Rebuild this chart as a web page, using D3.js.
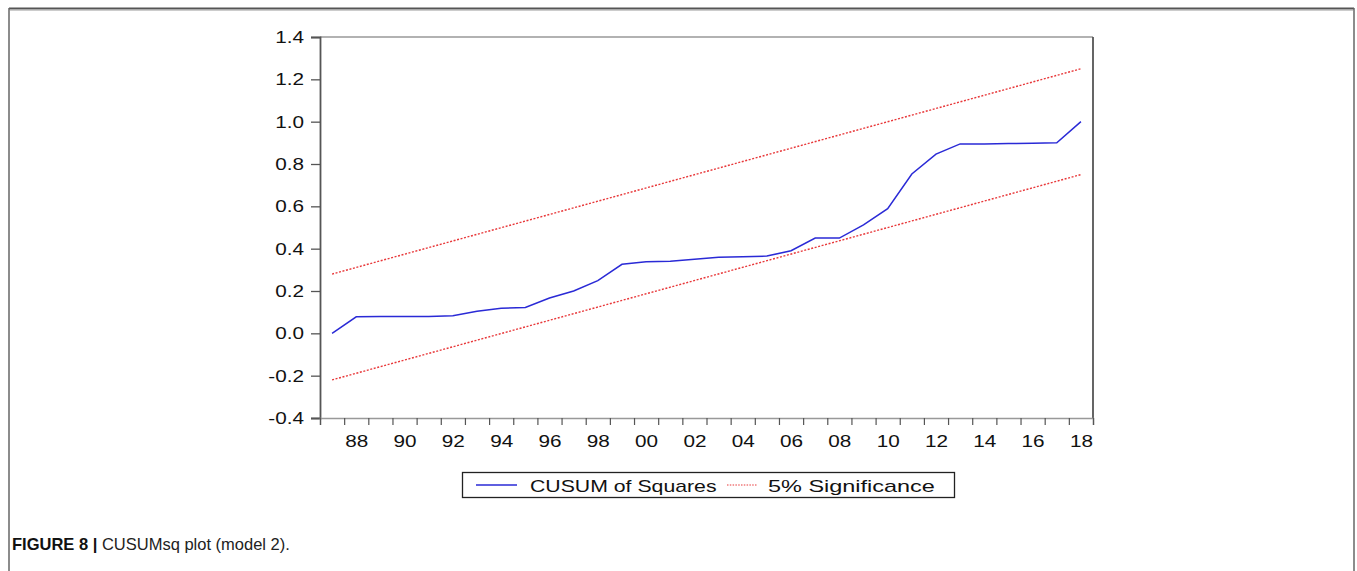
<!DOCTYPE html>
<html>
<head>
<meta charset="utf-8">
<script src="https://cdn.jsdelivr.net/npm/d3@7"></script>
<style>
  body { margin: 0; background: #fff; }
  svg { display: block; }
  text { font-family: "Liberation Sans", Arial, sans-serif; fill: #111; }
</style>
</head>
<body>
<svg width="1357" height="571"></svg>
<script>
// data
var years = [1987, 1988, 1989, 1990, 1991, 1992, 1993, 1994, 1995, 1996, 1997, 1998, 1999, 2000, 2001, 2002,
  2003, 2004, 2005, 2006, 2007, 2008, 2009, 2010, 2011, 2012, 2013, 2014, 2015, 2016, 2017, 2018];
var cusumSq = [0.0, 0.078, 0.079, 0.08, 0.08, 0.083, 0.104, 0.118, 0.122, 0.167, 0.2, 0.249, 0.326, 0.338, 0.34, 0.35,
  0.36, 0.362, 0.365, 0.39, 0.45, 0.45, 0.512, 0.589, 0.753, 0.847, 0.895, 0.895, 0.897, 0.898, 0.9, 1.0];
// the 5% bounds are straight lines, only the ends
var upperYears = [1987, 2018];
var upperBound = [0.28, 1.25];
var lowerYears = [1987, 2018];
var lowerBound = [-0.22, 0.75];
var yTicks = [-0.4, -0.2, 0.0, 0.2, 0.4, 0.6, 0.8, 1.0, 1.2, 1.4];
var xLabelYears = [1988, 1990, 1992, 1994, 1996, 1998, 2000, 2002, 2004, 2006, 2008, 2010, 2012, 2014, 2016, 2018];
var legendNames = ["CUSUM of Squares", "5% Significance"];

var svg = d3.select("svg");
// (don't call it "top", window.top is taken)
var plotLeft = 320, plotRight = 1093, plotTop = 37, plotBottom = 418;
var stretch = 1.22; // text in the picture is wider than normal

var x = d3.scaleLinear().domain([years[0] - 0.5, years[years.length - 1] + 0.5]).range([plotLeft, plotRight]);
var y = d3.scaleLinear().domain([-0.4, 1.4]).range([plotBottom, plotTop]);

// outer frame of the figure
svg.append("line").attr("x1", 9).attr("x2", 1354).attr("y1", 8.5).attr("y2", 8.5)
  .attr("stroke", "#555").attr("stroke-width", 2);
svg.append("line").attr("x1", 10).attr("x2", 1353).attr("y1", 10.5).attr("y2", 10.5)
  .attr("stroke", "#ccc").attr("stroke-width", 1);
svg.append("line").attr("x1", 9).attr("x2", 9).attr("y1", 8).attr("y2", 571)
  .attr("stroke", "#666").attr("stroke-width", 1.5);
svg.append("line").attr("x1", 1354).attr("x2", 1354).attr("y1", 8).attr("y2", 571)
  .attr("stroke", "#666").attr("stroke-width", 1.5);

// plot box
svg.append("line").attr("x1", plotLeft).attr("x2", plotRight).attr("y1", plotTop).attr("y2", plotTop)
  .attr("stroke", "#999").attr("stroke-width", 1.5);
svg.append("line").attr("x1", plotRight).attr("x2", plotRight).attr("y1", plotTop).attr("y2", plotBottom)
  .attr("stroke", "#555").attr("stroke-width", 1.8);

// y axis (plain hyphen for negatives, like the picture)
var yAxis = svg.append("g").attr("transform", "translate(" + plotLeft + ",0)")
  .call(d3.axisLeft(y).tickValues(yTicks).tickSize(9).tickPadding(8)
    .tickFormat(function(d) { return d.toFixed(1); }));
yAxis.select(".domain").attr("stroke", "#555").attr("stroke-width", 1.8);
yAxis.selectAll(".tick line").attr("stroke", "#555").attr("stroke-width", 1.3);
yAxis.selectAll(".tick text")
  .attr("x", null)
  .attr("transform", "translate(-16,0) scale(" + stretch + ",1)")
  .style("font-size", "17px").style("font-family", "Liberation Sans, Arial, sans-serif")
  .attr("fill", "#111");

// x axis: tick marks on year boundaries
var bounds = years.map(function(d) { return d - 0.5; }).concat([years[years.length - 1] + 0.5]);
var xTickAxis = svg.append("g").attr("transform", "translate(0," + plotBottom + ")")
  .call(d3.axisBottom(x).tickValues(bounds).tickSize(7).tickFormat(""));
xTickAxis.select(".domain").attr("stroke", "#999").attr("stroke-width", 1.5);
xTickAxis.selectAll(".tick line").attr("stroke", "#555").attr("stroke-width", 1.2);

// x labels at the middle of each period
var xLabAxis = svg.append("g").attr("transform", "translate(0," + plotBottom + ")")
  .call(d3.axisBottom(x).tickValues(xLabelYears).tickSize(0).tickPadding(17)
    .tickFormat(function(d) { return d3.format("02d")(d % 100); }));
xLabAxis.select(".domain").remove();
xLabAxis.selectAll(".tick text")
  .attr("transform", "scale(" + stretch + ",1)")
  .style("font-size", "17px").style("font-family", "Liberation Sans, Arial, sans-serif")
  .attr("fill", "#111");

// lines
var line = d3.line().x(function(d) { return x(d[0]); }).y(function(d) { return y(d[1]); });

svg.append("path")
  .datum(d3.zip(upperYears, upperBound))
  .attr("d", line).attr("fill", "none")
  .attr("stroke", "#e8383a").attr("stroke-width", 1.4).attr("stroke-dasharray", "2,1.6");
svg.append("path")
  .datum(d3.zip(lowerYears, lowerBound))
  .attr("d", line).attr("fill", "none")
  .attr("stroke", "#e8383a").attr("stroke-width", 1.4).attr("stroke-dasharray", "2,1.6");

svg.append("path")
  .datum(d3.zip(years, cusumSq))
  .attr("d", line).attr("fill", "none")
  .attr("stroke", "#2a2ad6").attr("stroke-width", 1.5);

// legend
var lg = svg.append("g");
lg.append("rect").attr("x", 462.5).attr("y", 472.5).attr("width", 492).attr("height", 25)
  .attr("fill", "#fff").attr("stroke", "#222").attr("stroke-width", 1.3);
lg.append("line").attr("x1", 476).attr("x2", 517).attr("y1", 485).attr("y2", 485)
  .attr("stroke", "#2a2ad6").attr("stroke-width", 1.3);
lg.append("text").attr("transform", "translate(530,491.5) scale(1.25,1)")
  .style("font-size", "17px").text(legendNames[0]);
lg.append("line").attr("x1", 727).attr("x2", 757).attr("y1", 485).attr("y2", 485)
  .attr("stroke", "#e8383a").attr("stroke-width", 1.2).attr("stroke-dasharray", "1.5,1.3");
lg.append("text").attr("transform", "translate(768,491.5) scale(1.38,1)")
  .style("font-size", "17px").text(legendNames[1]);

// caption
var cap = svg.append("text").attr("x", 12).attr("y", 550).style("font-size", "16.5px")
  .style("font-family", "Liberation Sans, Arial, sans-serif");
cap.append("tspan").style("font-weight", "bold").text("FIGURE 8 | ");
cap.append("tspan").attr("fill", "#222").text("CUSUMsq plot (model 2).");
</script>
</body>
</html>
